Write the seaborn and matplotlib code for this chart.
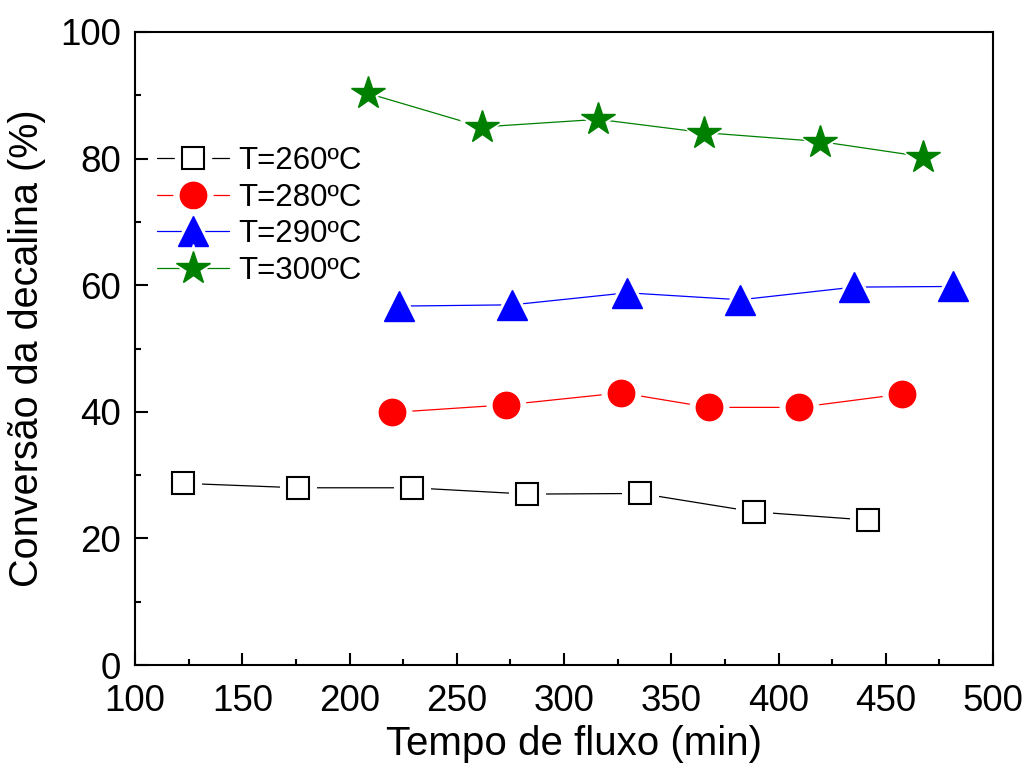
import matplotlib
matplotlib.use("Agg")
import matplotlib.pyplot as plt
from matplotlib.lines import Line2D
from matplotlib.legend_handler import HandlerTuple
from matplotlib.ticker import MultipleLocator
import pandas as pd
import seaborn as sns

# Tempo de fluxo (min) and conversion (%) for each reaction temperature
t_260 = [122.4, 175.8, 229.0, 282.9, 335.6, 388.7, 441.5]
c_260 = [28.7, 28.0, 28.0, 27.0, 27.1, 24.2, 22.9]

t_280 = [219.7, 273.0, 326.6, 367.5, 409.5, 457.4]
c_280 = [39.9, 41.1, 43.0, 40.7, 40.7, 42.8]

t_290 = [223.2, 275.9, 329.4, 382.2, 435.2, 481.2]
c_290 = [56.7, 56.9, 58.8, 57.7, 59.7, 59.8]

t_300 = [208.6, 261.6, 315.9, 365.2, 419.3, 467.4]
c_300 = [90.3, 85.0, 86.2, 84.1, 82.7, 80.3]

labels = ["T=260ºC", "T=280ºC", "T=290ºC", "T=300ºC"]

sns.set_style("ticks")
plt.rcParams["font.family"] = ["Liberation Sans", "DejaVu Sans"]
for key in ("text.color", "axes.labelcolor", "xtick.color", "ytick.color",
            "axes.edgecolor"):
    plt.rcParams[key] = "black"
plt.rcParams["axes.linewidth"] = 1.5

fig = plt.figure(figsize=(10.27, 7.69), dpi=100)
ax = fig.add_axes([0.1315, 0.1352, 0.8355, 0.8232])

colors = ["black", "red", "blue", "green"]
markers = ["s", "o", "^", "*"]
sizes = [16.5, 19, 22, 25]
faces = ["white", "red", "blue", "green"]
series = [(t_260, c_260), (t_280, c_280), (t_290, c_290), (t_300, c_300)]

handles = []
for (t, c), col, mk, ms, fc in zip(series, colors, markers, sizes, faces):
    df = pd.DataFrame({"t": t, "c": c})
    mew = 1.5 if mk == "s" else 1.0
    # connecting line
    sns.lineplot(data=df, x="t", y="c", ax=ax, color=col, linewidth=0.9,
                 sort=False, estimator=None, zorder=2)
    # white halo leaves a small gap between line and symbol
    sns.lineplot(data=df, x="t", y="c", ax=ax, linestyle="none", marker=mk,
                 markersize=ms + 9, markerfacecolor="white",
                 markeredgecolor="white", sort=False, estimator=None,
                 zorder=3)
    sns.lineplot(data=df, x="t", y="c", ax=ax, linestyle="none", marker=mk,
                 markersize=ms, markerfacecolor=fc, markeredgecolor=col,
                 markeredgewidth=mew, sort=False, estimator=None, zorder=4)
    handles.append((
        Line2D([], [], color=col, linewidth=0.9),
        Line2D([], [], linestyle="none", marker=mk, markersize=ms + 9,
               markerfacecolor="white", markeredgecolor="white"),
        Line2D([], [], linestyle="none", marker=mk, markersize=ms,
               markerfacecolor=fc, markeredgecolor=col, markeredgewidth=mew),
    ))

ax.set_xlim(100, 500)
ax.set_ylim(0, 100)
ax.xaxis.set_major_locator(MultipleLocator(50))
ax.xaxis.set_minor_locator(MultipleLocator(25))
ax.yaxis.set_major_locator(MultipleLocator(20))
ax.yaxis.set_minor_locator(MultipleLocator(10))
ax.tick_params(which="major", direction="in", length=9, width=1.5,
               labelsize=26.5, top=False, right=False)
ax.tick_params(axis="x", which="major", pad=14)
ax.tick_params(axis="y", which="major", pad=10)
ax.tick_params(which="minor", direction="in", length=4.5, width=1.5,
               top=False, right=False)
for s in ax.spines.values():
    s.set_visible(True)
    s.set_linewidth(1.5)

ax.set_xlabel("Tempo de fluxo (min)", fontsize=29)
ax.xaxis.set_label_coords(0.511, -0.095)
ax.set_ylabel("Conversão da decalina (%)", fontsize=28.5, labelpad=10)

ax.legend(handles, labels, loc="upper left", bbox_to_anchor=(0.0, 0.855),
          frameon=False, fontsize=22.5, handlelength=2.3, handletextpad=0.3,
          labelspacing=0.22, borderaxespad=0.3,
          handler_map={tuple: HandlerTuple(ndivide=1, pad=0)})

fig.savefig("out.png", dpi=100)
